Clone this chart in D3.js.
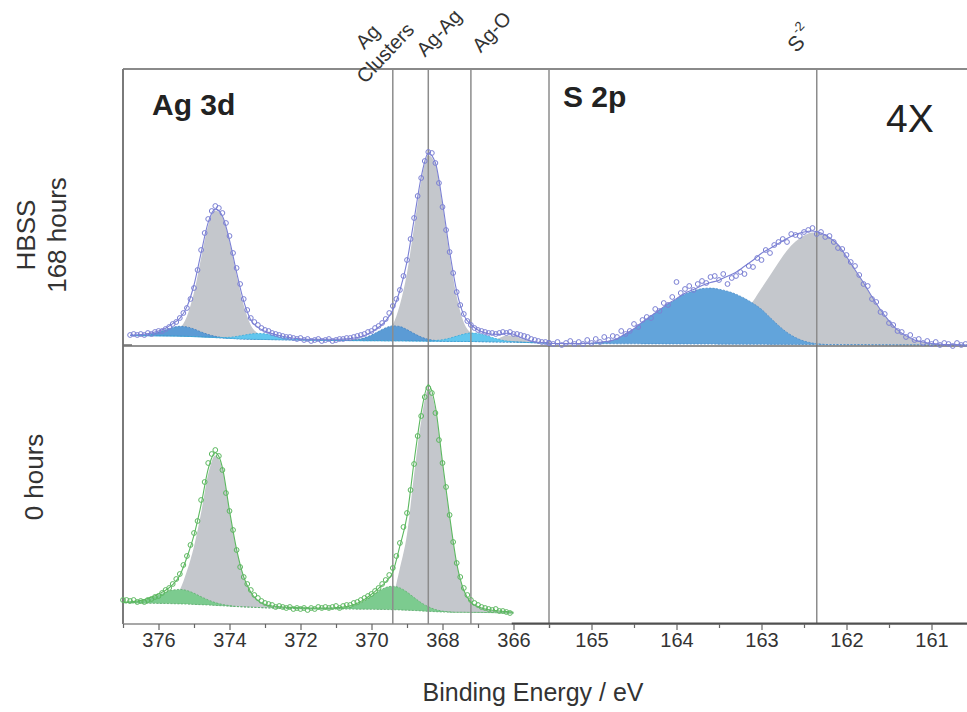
<!DOCTYPE html>
<html>
<head>
<meta charset="utf-8">
<script src="https://cdn.jsdelivr.net/npm/d3@7"></script>
<style>
  body { margin: 0; background: #fff; }
  svg text { font-family: 'Liberation Sans', Arial, sans-serif; }
</style>
</head>
<body>
<div id="chart"></div>
<script>
'use strict';

// ---------------- data ----------------
// fit components for Ag 3d sit on a 0.2 eV grid, 377.0 -> 365.0 eV (61 points)
const agGridStart = 377.0, agGridStep = 0.2;
// fit components for S 2p sit on a 0.1 eV grid, 165.5 -> 160.5 eV (51 points)
const sGridStart = 165.5, sGridStep = 0.1;

// HBSS 168 hours, Ag 3d
const topBackground = [
  10.5, 10.5, 10.4, 10.3, 10.2,
  10.1, 10.0, 9.9, 9.8, 9.6,
  9.4, 9.1, 8.8, 8.4, 8.0,
  7.6, 7.3, 7.0, 6.8, 6.6,
  6.5, 6.4, 6.3, 6.2, 6.1,
  6.0, 5.9, 5.8, 5.7, 5.6,
  5.5, 5.5, 5.4, 5.4, 5.3,
  5.3, 5.3, 5.2, 5.2, 5.2,
  5.1, 5.0, 4.9, 4.8, 4.8,
  4.7, 4.6, 4.6, 4.5, 4.5,
  4.4, 4.3, 4.2, 4.1, 4.0,
  3.9, 3.7, 3.5, 3.3, 3.1,
  3.0];
const topMetal = [
  0.3, 0.4, 0.5, 0.7, 0.8,
  1.0, 1.5, 3.8, 8, 20,
  44, 79, 112, 127, 121,
  97, 64, 34, 14, 6,
  2.5, 1.5, 1.2, 1.0, 0.9,
  0.8, 0.8, 0.9, 1.0, 1.1,
  1.2, 1.4, 1.6, 1.9, 2.3,
  3, 4, 7, 16, 36,
  68, 114, 160, 186, 177,
  137, 87, 45, 19, 8.5,
  3.5, 2, 1.5, 1.2, 1.0,
  0.8, 0.7, 0.6, 0.5, 0.4,
  0.3];
const topLoss = [
  0, 0, 0, 0, 0,
  0, 0, 0, 0, 0,
  0, 0, 0, 0, 0,
  0, 0, 0, 0, 0,
  0, 0, 0, 0, 0,
  0, 0, 0, 0, 0,
  0, 0, 0, 0, 0,
  0, 0, 0, 0, 0,
  0, 0, 0, 0, 0,
  0, 0, 0, 0, 0,
  0, 0.4, 1.7, 4, 6.6,
  6.6, 4, 1.7, 0.4, 0,
  0];
const topClusters = [
  0, 0, 0.3, 0.8, 1.9,
  3.8, 6.3, 8.7, 9.9, 9.5,
  7.6, 5.0, 2.8, 1.3, 0.5,
  0.2, 0, 0, 0, 0,
  0, 0, 0, 0, 0,
  0, 0, 0, 0, 0,
  0, 0, 0.4, 1.2, 2.9,
  5.7, 9.4, 13, 14.9, 14.3,
  11.3, 7.5, 4.1, 1.9, 0.7,
  0.2, 0, 0, 0, 0,
  0, 0, 0, 0, 0,
  0, 0, 0, 0, 0,
  0];
const topOxide = [
  0, 0, 0, 0, 0,
  0, 0, 0, 0, 0,
  0, 0, 0, 0.2, 0.5,
  1.1, 2.3, 3.8, 5.2, 6,
  5.7, 4.5, 3.0, 1.7, 0.8,
  0.3, 0, 0, 0, 0,
  0, 0, 0, 0, 0,
  0, 0, 0, 0, 0,
  0, 0, 0, 0.2, 0.7,
  1.6, 3.2, 5.3, 7.4, 8.5,
  8.1, 6.4, 4.3, 2.3, 1.1,
  0.4, 0.1, 0, 0, 0,
  0];
// measured points, 0.1 eV step from 376.8 eV
const topDataStart = 376.8;
const topData = [
  11, 12, 11, 12, 11, 13, 12, 14, 15, 15,
  17, 19, 22, 24, 28, 33, 38, 47, 58, 76,
  96, 113, 127, 135, 140, 138, 133, 123, 110, 93,
  78, 62, 47, 36, 28, 24, 21, 18, 16, 15,
  13, 12, 11, 10, 9, 9, 8, 7, 8, 6,
  7, 5, 6, 7, 5, 6, 7, 5, 6, 7,
  7, 8, 8, 9, 10, 11, 12, 14, 15, 18,
  20, 23, 27, 33, 40, 47, 56, 70, 86, 107,
  128, 150, 168, 185, 194, 193, 183, 163, 139, 116,
  94, 73, 54, 41, 32, 25, 21, 18, 16, 15,
  14, 13, 13, 12, 13, 14, 13, 14, 12, 12,
  11, 10, 9, 7, 6, 5, 4, 4, 3];
const topFitWindow = [376.8, 365.0];

// 0 hours, Ag 3d
const bottomBackground = [
  21.0, 21.0, 20.9, 20.8, 20.7,
  20.6, 20.5, 20.3, 20.1, 19.9,
  19.6, 19.3, 19.0, 18.6, 18.2,
  17.8, 17.4, 17.1, 16.8, 16.5,
  16.2, 16.0, 15.9, 15.7, 15.6,
  15.4, 15.3, 15.2, 15.1, 15.0,
  15.0, 14.9, 14.9, 14.8, 14.8,
  14.7, 14.6, 14.5, 14.3, 14.1,
  13.8, 13.5, 13.1, 12.7, 12.3,
  12.0, 11.8, 11.7, 11.7, 11.6,
  11.6, 11.5, 11.4, 11.2, 11.0,
  10.8, 10.6, 10.4, 10.2, 10.0,
  10.0];
const bottomMetal = [
  0.4, 0.5, 0.6, 0.8, 1.0,
  1.3, 2, 5.5, 14, 33,
  58, 92, 131, 150, 137,
  95, 57, 30, 15, 6.8,
  3.4, 2, 1.4, 1.1, 0.9,
  0.8, 0.8, 0.8, 0.9, 1.0,
  1.0, 1.1, 1.2, 1.4, 1.6,
  2, 3, 5.5, 14, 42,
  76, 136, 190, 222, 203,
  149, 96, 49, 22, 10,
  6, 3.5, 2.4, 1.8, 1.4,
  1.0, 0, 0, 0, 0,
  0];
const bottomClusters = [
  0.2, 0.6, 1.4, 2.8, 5.1,
  8.0, 11.2, 13.6, 14.5, 13.6,
  11.2, 8.0, 5.1, 2.8, 1.4,
  0.6, 0.2, 0, 0, 0,
  0, 0, 0, 0, 0,
  0, 0, 0, 0, 0,
  0.35, 0.9, 2.2, 4.6, 8.2,
  13, 18.1, 22, 23.5, 22,
  18.1, 13, 8.2, 4.6, 2.2,
  0.9, 0.35, 0, 0, 0,
  0, 0, 0, 0, 0,
  0, 0, 0, 0, 0,
  0];
const bottomDataStart = 377.0;
const bottomData = [
  24, 24, 23, 24, 22, 23, 22, 24, 25, 27,
  28, 31, 34, 36, 40, 45, 50, 59, 68, 79,
  91, 103, 124, 142, 161, 170, 174, 168, 154, 131,
  113, 94, 74, 57, 47, 40, 34, 29, 26, 23,
  21, 20, 19, 17, 18, 17, 16, 17, 15, 16,
  15, 16, 14, 16, 15, 17, 16, 17, 16, 17,
  18, 16, 18, 19, 19, 21, 22, 24, 26, 28,
  30, 33, 36, 40, 44, 49, 56, 68, 81, 97,
  111, 134, 160, 188, 208, 227, 236, 231, 211, 184,
  161, 137, 109, 82, 61, 47, 36, 29, 24, 21,
  19, 17, 16, 15, 14, 15, 13, 13, 12, 11];
const bottomFitWindow = [377.0, 366.0];

// HBSS 168 hours, S 2p (shown 4X)
const sBackground = [
  2.5, 2.5, 2.4, 2.4, 2.4,
  2.3, 2.3, 2.3, 2.2, 2.2,
  2.2, 2.1, 2.1, 2.1, 2.0,
  2.0, 2.0, 1.9, 1.9, 1.9,
  1.8, 1.8, 1.8, 1.7, 1.7,
  1.7, 1.6, 1.6, 1.6, 1.5,
  1.5, 1.5, 1.4, 1.4, 1.4,
  1.3, 1.3, 1.3, 1.2, 1.2,
  1.2, 1.1, 1.1, 1.1, 1.0,
  1.0, 1.0, 1.0, 1.0, 1.0,
  1.0];
const sHighBE = [
  0, 0, 0, 0, 0.2,
  0.5, 1.5, 2.5, 5, 10,
  15, 22, 28, 34, 40,
  45, 50, 53, 55.5, 56,
  55, 53, 50, 46, 41,
  35, 27, 19, 12, 7,
  3.5, 1.5, 0.5, 0, 0,
  0, 0, 0, 0, 0,
  0, 0, 0, 0, 0,
  0, 0, 0, 0, 0,
  0];
const sSulfide = [
  0, 0, 0, 0, 0,
  0, 0, 0, 0, 0,
  0, 0, 0, 0, 0.2,
  0.4, 0.8, 1.6, 3, 5.5,
  9, 15, 22, 32, 43,
  56, 69, 82, 94, 103,
  109, 112, 111, 107, 100,
  88, 75, 62, 48, 35,
  24, 15, 9, 5, 3,
  1.5, 0.8, 0.4, 0.2, 0,
  0];
const sDataStart = 165.5, sDataStep = 0.05;
const sData = [
  3, 2, 4, 1, 3, 5, 2, 4, 2, 6,
  3, 7, 4, 9, 6, 10, 9, 15, 12, 15,
  22, 19, 26, 29, 28, 37, 35, 43, 41, 49,
  64, 53, 57, 60, 56, 62, 65, 63, 69, 70,
  66, 72, 62, 68, 70, 74, 72, 80, 79, 88,
  86, 96, 93, 101, 104, 107, 104, 112, 111, 110,
  114, 116, 118, 112, 114, 109, 110, 104, 98, 97,
  91, 84, 80, 71, 62, 60, 47, 44, 34, 32,
  23, 21, 15, 14, 9, 11, 6, 7, 3, 5,
  2, 4, 1, 3, 2, 0, 3, 1, 2];
const sFitWindow = [165.5, 160.5];

// axis ticks
const agTickLabels = [376, 374, 372, 370, 368, 366];
const agMinorTicks = [377, 375, 373, 371, 369, 367, 365];
const sTickLabels = [165, 164, 163, 162, 161];
const sMinorTicks = [165.5, 164.5, 163.5, 162.5, 161.5, 160.5];

// peak position markers (eV)
const agMarkerNames = [['Ag', 'Clusters'], ['Ag-Ag'], ['Ag-O']];
const agMarkerEnergies = [369.4, 368.4, 367.2];
const sMarkerEnergy = 162.35;

// ---------------- drawing ----------------
const width = 967, height = 712;
const frameLeft = 123, frameSplit = 549, frameRight = 974;
const frameTop = 69, rowSplit = 346, frameBottom = 624;

const svg = d3.select('#chart')
  .append('svg')
  .attr('width', width)
  .attr('height', height);

const xAg = d3.scaleLinear().domain([377, 365]).range([frameLeft, frameSplit]);
const xS = d3.scaleLinear().domain([165.5, 160.5]).range([frameSplit, frameRight]);
const yTop = d3.scaleLinear().domain([0, 277]).range([rowSplit, frameTop]);
const yBottom = d3.scaleLinear().domain([0, 278]).range([frameBottom, rowSplit]);

function energyGrid(start, step, n) {
  return d3.range(n).map(i => +(start - i * step).toFixed(3));
}
const agEnergies = energyGrid(agGridStart, agGridStep, topBackground.length);
const sEnergies = energyGrid(sGridStart, sGridStep, sBackground.length);

function inWindow(e, win) {
  return e <= win[0] + 1e-6 && e >= win[1] - 1e-6;
}

function drawComponent(g, x, y, energies, bg, comp, win, fill, stroke) {
  const pts = energies
    .map((e, i) => ({ e: e, b: bg[i], t: bg[i] + comp[i] }))
    .filter(d => inWindow(d.e, win));
  const area = d3.area()
    .x(d => x(d.e))
    .y0(d => y(d.b))
    .y1(d => y(d.t))
    .curve(d3.curveMonotoneX);
  g.append('path')
    .datum(pts)
    .attr('d', area)
    .attr('fill', fill)
    .attr('stroke', stroke || 'none')
    .attr('stroke-width', 0.8)
    .attr('stroke-dasharray', stroke ? '2,1.5' : null);
}

function drawEnvelope(g, x, y, energies, bg, comps, win, color) {
  const pts = energies
    .map((e, i) => ({ e: e, v: bg[i] + d3.sum(comps, c => c[i]) }))
    .filter(d => inWindow(d.e, win));
  const line = d3.line()
    .x(d => x(d.e))
    .y(d => y(d.v))
    .curve(d3.curveMonotoneX);
  g.append('path')
    .datum(pts)
    .attr('d', line)
    .attr('fill', 'none')
    .attr('stroke', color)
    .attr('stroke-width', 1.1);
}

function drawPoints(g, x, y, start, step, values, color) {
  g.selectAll(null)
    .data(values)
    .join('circle')
    .attr('cx', (d, i) => x(start - i * step))
    .attr('cy', d => y(d))
    .attr('r', 2.4)
    .attr('fill', 'none')
    .attr('stroke', color)
    .attr('stroke-width', 1);
}

const gray = '#c4c7cc';
const topColor = '#7b80d4';
const bottomColor = '#5cb860';

// fills
const fills = svg.append('g');
drawComponent(fills, xAg, yTop, agEnergies, topBackground, topMetal, topFitWindow, gray);
drawComponent(fills, xAg, yTop, agEnergies, topBackground, topLoss, topFitWindow, gray);
drawComponent(fills, xAg, yTop, agEnergies, topBackground, topClusters, topFitWindow, '#5b9bd5', '#3f7fc0');
drawComponent(fills, xAg, yTop, agEnergies, topBackground, topOxide, topFitWindow, '#62c6ee', '#3aa8d8');

drawComponent(fills, xAg, yBottom, agEnergies, bottomBackground, bottomMetal, bottomFitWindow, gray);
drawComponent(fills, xAg, yBottom, agEnergies, bottomBackground, bottomClusters, bottomFitWindow, '#7ccb8f', '#5aae6c');

drawComponent(fills, xS, yTop, sEnergies, sBackground, sSulfide, sFitWindow, gray);
drawComponent(fills, xS, yTop, sEnergies, sBackground, sHighBE, sFitWindow, '#62a4db', '#4a8cc8');

// frame and marker lines
const frame = svg.append('g').attr('fill', 'none');
frame.selectAll('.marker')
  .data(agMarkerEnergies.map(e => xAg(e)).concat([xS(sMarkerEnergy), frameSplit]))
  .join('line')
  .attr('class', 'marker')
  .attr('x1', d => d).attr('x2', d => d)
  .attr('y1', frameTop).attr('y2', frameBottom)
  .attr('stroke', '#8c8c8c')
  .attr('stroke-width', 1.5);

frame.append('line')
  .attr('x1', frameLeft).attr('x2', width)
  .attr('y1', frameTop).attr('y2', frameTop)
  .attr('stroke', '#8a8a8a').attr('stroke-width', 2);
frame.append('line')
  .attr('x1', frameLeft).attr('x2', frameLeft)
  .attr('y1', frameTop).attr('y2', frameBottom)
  .attr('stroke', '#7a7a7a').attr('stroke-width', 2);
frame.append('line')
  .attr('x1', frameLeft).attr('x2', width)
  .attr('y1', rowSplit).attr('y2', rowSplit)
  .attr('stroke', '#6f6f6f').attr('stroke-width', 1.5);
frame.append('line')
  .attr('x1', frameLeft).attr('x2', frameLeft + 9)
  .attr('y1', rowSplit - 1).attr('y2', rowSplit - 1)
  .attr('stroke', '#6f6f6f').attr('stroke-width', 1.5);
frame.append('line')
  .attr('x1', frameLeft).attr('x2', width)
  .attr('y1', frameBottom).attr('y2', frameBottom)
  .attr('stroke', '#8a8a8a').attr('stroke-width', 1.5);
frame.append('line')
  .attr('x1', xAg(366.05)).attr('x2', width)
  .attr('y1', frameBottom - 0.5).attr('y2', frameBottom - 0.5)
  .attr('stroke', '#505050').attr('stroke-width', 2);

// envelopes and measured points
const curves = svg.append('g');
drawEnvelope(curves, xAg, yTop, agEnergies, topBackground,
  [topMetal, topLoss, topClusters, topOxide], topFitWindow, topColor);
drawEnvelope(curves, xAg, yBottom, agEnergies, bottomBackground,
  [bottomMetal, bottomClusters], bottomFitWindow, bottomColor);
drawEnvelope(curves, xS, yTop, sEnergies, sBackground,
  [sHighBE, sSulfide], sFitWindow, topColor);

drawPoints(curves, xAg, yTop, topDataStart, 0.1, topData, topColor);
drawPoints(curves, xAg, yBottom, bottomDataStart, 0.1, bottomData, bottomColor);
drawPoints(curves, xS, yTop, sDataStart, sDataStep, sData, topColor);

// axes
function styleAxis(g) {
  g.select('.domain').remove();
  g.attr('font-family', null);
  g.selectAll('line').attr('stroke', '#666').attr('stroke-width', 1.2);
  g.selectAll('text').attr('font-size', 20).attr('fill', '#333');
}
svg.append('g')
  .attr('transform', `translate(0,${frameBottom})`)
  .call(d3.axisBottom(xAg).tickValues(agTickLabels).tickSize(6).tickFormat(d3.format('d')))
  .call(styleAxis);
svg.append('g')
  .attr('transform', `translate(0,${frameBottom})`)
  .call(d3.axisBottom(xAg).tickValues(agMinorTicks).tickSize(4).tickFormat(''))
  .call(styleAxis);
svg.append('g')
  .attr('transform', `translate(0,${frameBottom})`)
  .call(d3.axisBottom(xS).tickValues(sTickLabels).tickSize(6).tickFormat(d3.format('d')))
  .call(styleAxis);
svg.append('g')
  .attr('transform', `translate(0,${frameBottom})`)
  .call(d3.axisBottom(xS).tickValues(sMinorTicks).tickSize(4).tickFormat(''))
  .call(styleAxis);

svg.append('text')
  .attr('x', 533).attr('y', 701)
  .attr('text-anchor', 'middle')
  .attr('font-size', 25)
  .attr('fill', '#333')
  .text('Binding Energy / eV');

// panel titles
svg.append('text')
  .attr('x', 152).attr('y', 115)
  .attr('font-size', 30).attr('font-weight', 'bold').attr('fill', '#222')
  .text('Ag 3d');
svg.append('text')
  .attr('x', 563).attr('y', 107)
  .attr('font-size', 30).attr('font-weight', 'bold').attr('fill', '#222')
  .text('S 2p');
svg.append('text')
  .attr('x', 886).attr('y', 132)
  .attr('font-size', 39).attr('fill', '#222')
  .text('4X');

// row labels
const rowLabels = svg.append('g')
  .attr('font-size', 26).attr('fill', '#333').attr('text-anchor', 'middle');
rowLabels.append('text')
  .attr('transform', 'translate(35,235) rotate(-90)')
  .text('HBSS');
rowLabels.append('text')
  .attr('transform', 'translate(66,235) rotate(-90)')
  .text('168 hours');
rowLabels.append('text')
  .attr('transform', 'translate(43,477) rotate(-90)')
  .text('0 hours');

// marker labels
const markerOffsets = [[-15, 46], [12, 34], [22, 33]];
agMarkerNames.forEach((names, i) => {
  const cx = xAg(agMarkerEnergies[i]) + markerOffsets[i][0];
  const cy = markerOffsets[i][1];
  const t = svg.append('text')
    .attr('transform', `translate(${cx},${cy}) rotate(-47)`)
    .attr('text-anchor', 'middle')
    .attr('dominant-baseline', 'middle')
    .attr('font-size', 20)
    .attr('fill', '#333');
  names.forEach((n, j) => {
    t.append('tspan')
      .attr('x', 0)
      .attr('y', (j - (names.length - 1) / 2) * 24)
      .text(n);
  });
});
const sLabel = svg.append('text')
  .attr('transform', `translate(${xS(sMarkerEnergy) - 16},40) rotate(-47)`)
  .attr('text-anchor', 'middle')
  .attr('dominant-baseline', 'middle')
  .attr('font-size', 21)
  .attr('fill', '#333');
sLabel.append('tspan').text('S');
sLabel.append('tspan').attr('font-size', 13).attr('dy', -9).text('-2');
</script>
</body>
</html>
